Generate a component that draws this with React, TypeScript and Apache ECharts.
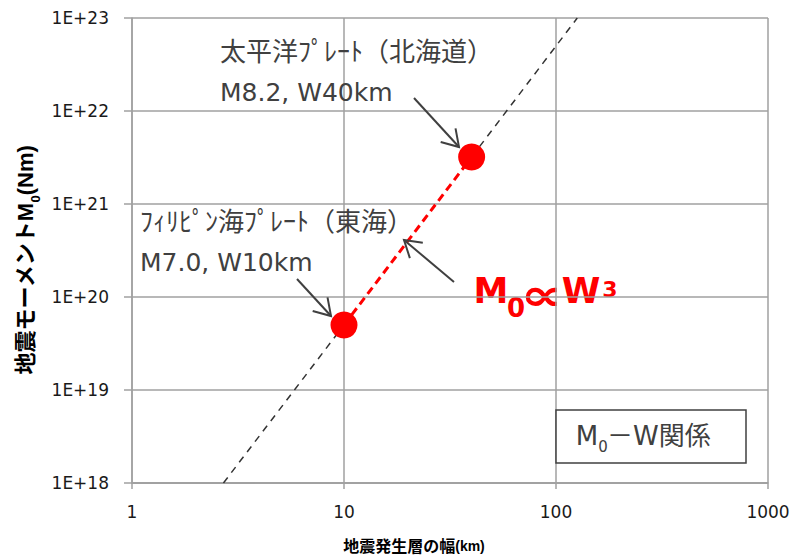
import React, { useEffect, useRef } from "react";
import * as echarts from "echarts";

// ---- data ----
const xTickLabels = ["1", "10", "100", "1000"];
const yTickLabels = ["1E+18", "1E+19", "1E+20", "1E+21", "1E+22", "1E+23"];
const yMinExp = 18;

// observed earthquakes: width W (km) and seismic moment M0 (Nm)
const quakeW = [10, 40];
const quakeM0 = [5e19, 3.2e21];

// M0 ∝ W^3 reference line: lower part (to the Tokai point) and upper part (from the Hokkaido point)
const trendLowW = [2.7, 10];
const trendLowM0 = [1e18, 5e19];
const trendHighW = [40, 126];
const trendHighM0 = [3.2e21, 1e23];

const pacificLabel = ["太平洋ﾌﾟﾚｰﾄ（北海道）", "M8.2, W40km"];
const philippineLabel = ["ﾌｨﾘﾋﾟﾝ海ﾌﾟﾚｰﾄ（東海）", "M7.0, W10km"];

const TEXT_GRAY = "#404040";
const GRID_GRAY = "#a0a0a0";
const LATIN = "'DejaVu Sans', 'Noto Sans CJK JP', sans-serif";
const BOLD_FONT = "'Liberation Sans', 'Noto Sans CJK JP', sans-serif";

function arrow(x1: number, y1: number, x2: number, y2: number) {
  const dx = x2 - x1;
  const dy = y2 - y1;
  const len = Math.sqrt(dx * dx + dy * dy);
  const bx = -dx / len;
  const by = -dy / len;
  const h = 19;
  const a = (32 * Math.PI) / 180;
  const rot = (ang: number) => [
    x2 + h * (bx * Math.cos(ang) - by * Math.sin(ang)),
    y2 + h * (bx * Math.sin(ang) + by * Math.cos(ang)),
  ];
  const style = { stroke: TEXT_GRAY, lineWidth: 2, fill: null as any };
  return [
    { type: "line", shape: { x1, y1, x2, y2 }, style, z: 10 },
    { type: "polyline", shape: { points: [rot(a), [x2, y2], rot(-a)] }, style, z: 10 },
  ];
}

export default function App() {
  const ref = useRef<HTMLDivElement>(null);

  useEffect(() => {
    if (!ref.current) return;
    const chart = echarts.init(ref.current, undefined, { renderer: "svg" });

    const trendStyle = { color: "#333333", width: 1.5, type: [7, 6] };

    const option: any = {
      animation: false,
      backgroundColor: "#ffffff",
      grid: { left: 132, right: 27, top: 18, bottom: 74, containLabel: false },
      xAxis: {
        type: "log",
        logBase: 10,
        min: 1,
        max: 1000,
        axisLine: { show: true, lineStyle: { color: GRID_GRAY, width: 1.5 } },
        axisTick: { show: true, length: 6, lineStyle: { color: GRID_GRAY, width: 1.5 } },
        axisLabel: {
          margin: 20,
          color: "#1a1a1a",
          fontSize: 17,
          fontFamily: LATIN,
          formatter: (v: number) => xTickLabels[Math.round(Math.log10(v))] ?? "",
        },
        splitLine: { show: true, lineStyle: { color: GRID_GRAY, width: 1.5 } },
        minorTick: { show: false },
      },
      yAxis: {
        type: "log",
        logBase: 10,
        min: 1e18,
        max: 1e23,
        axisLine: { show: true, lineStyle: { color: GRID_GRAY, width: 1.5 } },
        axisTick: { show: true, length: 8, lineStyle: { color: GRID_GRAY, width: 1.5 } },
        axisLabel: {
          margin: 23,
          color: "#1a1a1a",
          fontSize: 17,
          fontFamily: LATIN,
          padding: [4, 0, 0, 0],
          formatter: (v: number) => yTickLabels[Math.round(Math.log10(v)) - yMinExp] ?? "",
        },
        splitLine: { show: true, lineStyle: { color: GRID_GRAY, width: 1.5 } },
      },
      series: [
        {
          type: "line",
          data: trendLowW.map((w, i) => [w, trendLowM0[i]]),
          showSymbol: false,
          symbol: "none",
          lineStyle: trendStyle,
          z: 2,
        },
        {
          type: "line",
          data: trendHighW.map((w, i) => [w, trendHighM0[i]]),
          showSymbol: false,
          symbol: "none",
          lineStyle: trendStyle,
          z: 2,
        },
        {
          type: "line",
          data: quakeW.map((w, i) => [w, quakeM0[i]]),
          showSymbol: false,
          symbol: "none",
          lineStyle: { color: "#ff0000", width: 3, type: [8, 5] },
          z: 3,
        },
        {
          type: "scatter",
          data: quakeW.map((w, i) => [w, quakeM0[i]]),
          symbol: "circle",
          symbolSize: 27,
          itemStyle: { color: "#ff0000", opacity: 1 },
          z: 4,
        },
      ],
      graphic: [
        // annotations
        {
          type: "text",
          x: 220,
          y: 52,
          style: { text: pacificLabel[0], fontSize: 26, fontFamily: LATIN, fill: TEXT_GRAY, align: "left", verticalAlign: "middle" },
          z: 10,
        },
        {
          type: "text",
          x: 220,
          y: 92,
          style: { text: pacificLabel[1], fontSize: 25, fontFamily: LATIN, fill: TEXT_GRAY, align: "left", verticalAlign: "middle" },
          z: 10,
        },
        {
          type: "text",
          x: 140,
          y: 222,
          style: { text: philippineLabel[0], fontSize: 26, fontFamily: LATIN, fill: TEXT_GRAY, align: "left", verticalAlign: "middle" },
          z: 10,
        },
        {
          type: "text",
          x: 140,
          y: 262,
          style: { text: philippineLabel[1], fontSize: 25, fontFamily: LATIN, fill: TEXT_GRAY, align: "left", verticalAlign: "middle" },
          z: 10,
        },
        ...arrow(414, 98, 459, 147),
        ...arrow(454, 282, 404, 240),
        ...arrow(297, 279, 331, 316),
        // M0 ∝ W^3
        {
          type: "group",
          z: 10,
          children: [
            { type: "text", x: 491, y: 291, style: { text: "M", fontSize: 35, fontWeight: "bold", fontFamily: LATIN, fill: "#ff0000", align: "center", verticalAlign: "middle" } },
            { type: "text", x: 516, y: 308, style: { text: "0", fontSize: 26, fontWeight: "bold", fontFamily: LATIN, fill: "#ff0000", align: "center", verticalAlign: "middle" } },
            { type: "text", x: 541.5, y: 294, scaleX: 1.35, style: { text: "∝", fontSize: 44, fontWeight: "bold", fontFamily: LATIN, fill: "#ff0000", align: "center", verticalAlign: "middle" } },
            { type: "text", x: 581, y: 291, style: { text: "W", fontSize: 35, fontWeight: "bold", fontFamily: LATIN, fill: "#ff0000", align: "center", verticalAlign: "middle" } },
            { type: "text", x: 610, y: 289, style: { text: "3", fontSize: 22, fontWeight: "bold", fontFamily: LATIN, fill: "#ff0000", align: "center", verticalAlign: "middle" } },
          ],
        },
        // legend box
        {
          type: "rect",
          shape: { x: 556, y: 410, width: 190, height: 53 },
          style: { fill: "#ffffff", stroke: TEXT_GRAY, lineWidth: 1.5 },
          z: 10,
        },
        { type: "text", x: 587, y: 436, z: 11, style: { text: "M", fontSize: 26, fontFamily: LATIN, fill: TEXT_GRAY, align: "center", verticalAlign: "middle" } },
        { type: "text", x: 603, y: 447, z: 11, style: { text: "0", fontSize: 15, fontFamily: LATIN, fill: TEXT_GRAY, align: "center", verticalAlign: "middle" } },
        { type: "text", x: 607, y: 436, z: 11, style: { text: "－W関係", fontSize: 26, fontFamily: LATIN, fill: TEXT_GRAY, align: "left", verticalAlign: "middle" } },
        // axis titles
        {
          type: "text",
          x: 28,
          y: 260,
          rotation: Math.PI / 2,
          z: 10,
          style: {
            text: "{a|地震モーメントM}{s|0}{a|(Nm)}",
            align: "center",
            verticalAlign: "middle",
            fill: "#000000",
            rich: {
              a: { fontSize: 22, lineHeight: 22, fontWeight: "bold", fontFamily: BOLD_FONT, fill: "#000000", verticalAlign: "top" },
              s: { fontSize: 13, lineHeight: 28, fontWeight: "bold", fontFamily: BOLD_FONT, fill: "#000000", verticalAlign: "bottom" },
            },
          },
        },
        {
          type: "text",
          x: 414,
          y: 546,
          z: 10,
          style: {
            text: "{a|地震発生層の幅}{b|(km)}",
            align: "center",
            verticalAlign: "middle",
            fill: "#000000",
            rich: {
              a: { fontSize: 16, fontWeight: "bold", fontFamily: BOLD_FONT, fill: "#000000" },
              b: { fontSize: 14, fontWeight: "bold", fontFamily: BOLD_FONT, fill: "#000000" },
            },
          },
        },
      ],
    };

    chart.setOption(option);
    return () => chart.dispose();
  }, []);

  return (
    <div
      ref={ref}
      style={{ position: "fixed", left: 0, top: 0, width: 795, height: 557, background: "#fff" }}
    />
  );
}
